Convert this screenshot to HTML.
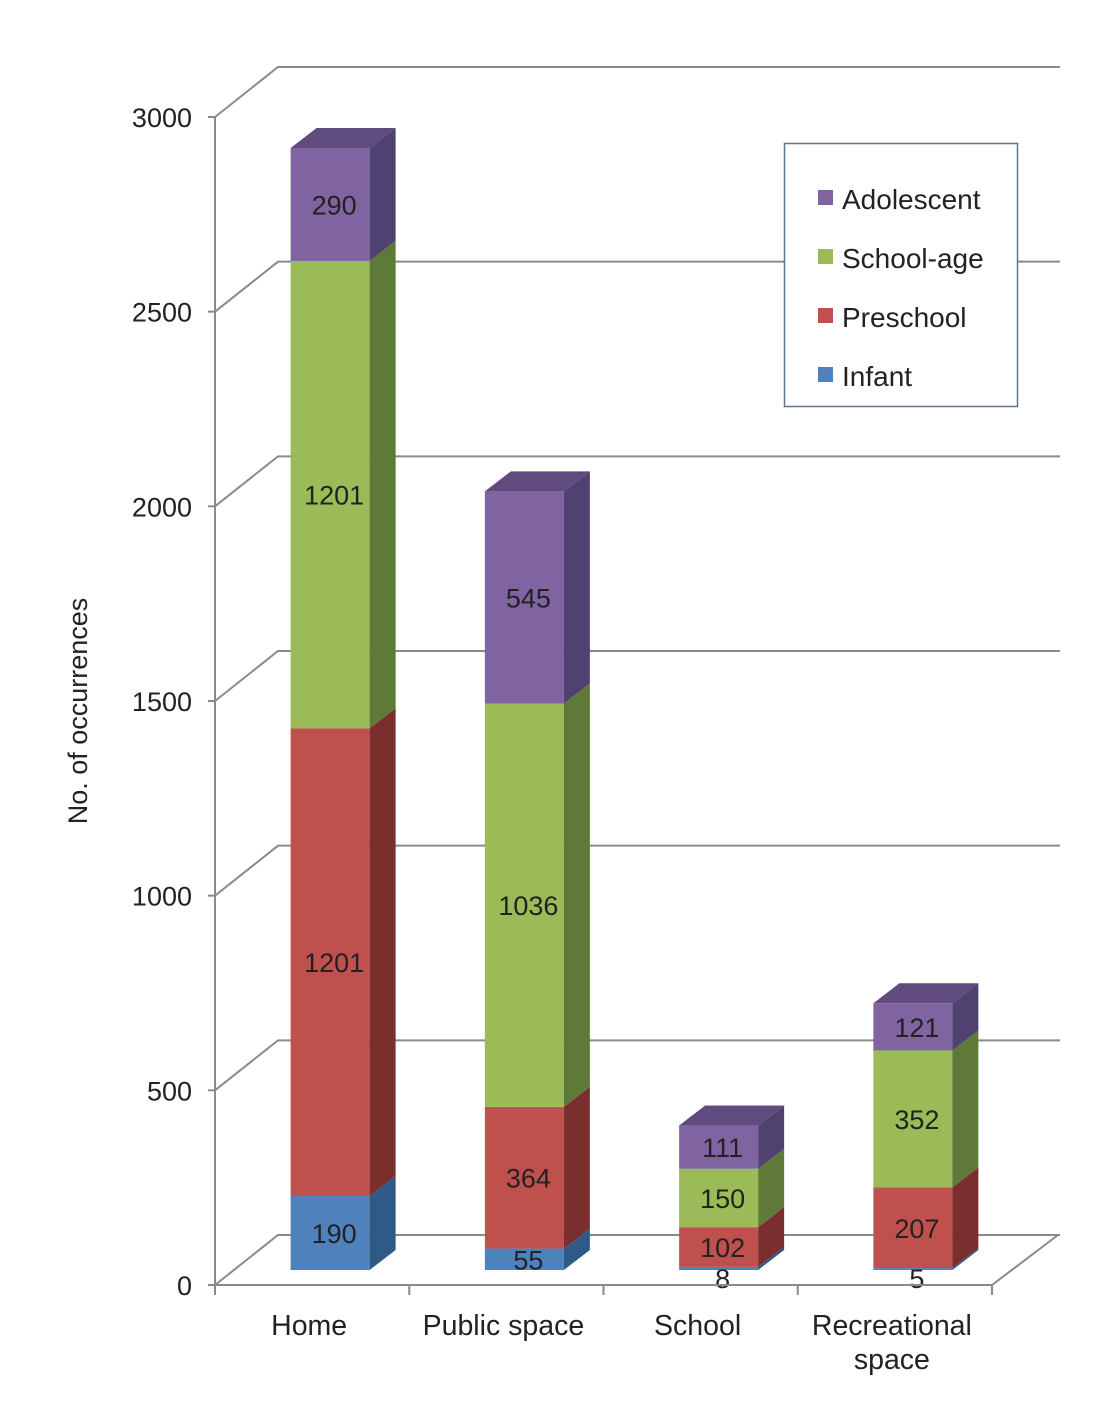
<!DOCTYPE html>
<html><head><meta charset="utf-8"><style>
body{margin:0;background:#fff;width:1112px;height:1412px;overflow:hidden}
svg text{font-family:"Liberation Sans",sans-serif;fill:#222}
</style></head><body>
<svg id="chart" width="1112" height="1412" viewBox="0 0 1112 1412" xmlns="http://www.w3.org/2000/svg">
<g id="grid"></g>
<g id="bars"></g>
<g id="axes"></g>
<text x="0" y="0" font-size="27" text-anchor="middle" transform="translate(87,711) rotate(-90)">No. of  occurrences</text>
<g>
<rect x="784.5" y="143.5" width="233" height="263" fill="#fff" stroke="#5a7792" stroke-width="1.5"/>
<g><rect x="818" y="190" width="15" height="15" fill="#8064a2"/><text x="842" y="209" font-size="28">Adolescent</text></g>
<g><rect x="818" y="249" width="15" height="15" fill="#9bbb59"/><text x="842" y="268" font-size="28">School-age</text></g>
<g><rect x="818" y="308" width="15" height="15" fill="#c0504d"/><text x="842" y="327" font-size="28">Preschool</text></g>
<g><rect x="818" y="367" width="15" height="15" fill="#4f81bd"/><text x="842" y="386" font-size="28">Infant</text></g>
</g>
</svg>
<script>
const categories=["Home","Public space","School","Recreational space"];
const infant=[190,55,8,5];
const preschool=[1201,364,102,207];
const schoolAge=[1201,1036,150,352];
const adolescent=[290,545,111,121];
const yTicks=[0,500,1000,1500,2000,2500,3000];
const NS="http://www.w3.org/2000/svg";
const gGrid=document.getElementById('grid'),gBars=document.getElementById('bars'),gAxes=document.getElementById('axes');
const yFront=v=>1285-v*1168/3000;
const yBar=v=>1270-v*1168/3000;
const DX=63,DY=-50,BX=26,BY=-20;
const xLeft=215,xRight=992;
const xCat=i=>xLeft+(i+0.5)*(xRight-xLeft)/categories.length;
function el(tag,attrs,parent){const e=document.createElementNS(NS,tag);for(const k in attrs)e.setAttribute(k,attrs[k]);parent.appendChild(e);return e;}
const gray="#8a8a8a";
yTicks.forEach(v=>{
  const y=yFront(v);
  const l=el('polyline',{points:`${xLeft},${y} ${xLeft+DX},${y+DY} 1060,${y+DY}`,fill:'none',stroke:gray,'stroke-width':2},gGrid);
  
  
  const t=el('line',{x1:xLeft-7,y1:y,x2:xLeft,y2:y,stroke:gray,'stroke-width':2},gAxes);
  
  
  const tx=el('text',{x:192,y:y+10,'font-size':27,'text-anchor':'end'},gAxes);
  tx.textContent=v;
  
  
});
el('line',{x1:xLeft,y1:yFront(3000),x2:xLeft,y2:yFront(0),stroke:gray,'stroke-width':2},gAxes);
el('polyline',{points:`${xLeft},${yFront(0)} ${xRight},${yFront(0)} 1058,${yFront(0)+DY}`,fill:'none',stroke:gray,'stroke-width':2},gAxes);
for(let i=0;i<=categories.length;i++){
  const x=xLeft+i*(xRight-xLeft)/categories.length;
  el('line',{x1:x,y1:1285,x2:x,y2:1295,stroke:gray,'stroke-width':2},gAxes);
}
const series=[[infant,'#4f81bd','#2f5a85','#3d6aa0','infant'],[preschool,'#c0504d','#7a2e2d','#9c3c3a','preschool'],[schoolAge,'#9bbb59','#5f7a38','#7e9c45','school-age'],[adolescent,'#8064a2','#4f4170','#5f4b7e','adolescent']];
const W=79;
categories.forEach((c,i)=>{
  const x0=xCat(i)-W/2+18;
  let cum=0;
  const total=series.reduce((s,a)=>s+a[0][i],0);
  series.forEach(([arr,front,side,top,name])=>{
    const v=arr[i];const y1=yBar(cum),y2=yBar(cum+v);
    const g=el('g',{},gBars);
    
    
    el('rect',{x:x0,y:y2,width:W,height:y1-y2,fill:front},g);
    el('polygon',{points:`${x0+W},${y1} ${x0+W+BX},${y1+BY} ${x0+W+BX},${y2+BY} ${x0+W},${y2}`,fill:side},g);
    if(cum+v===total) el('polygon',{points:`${x0},${y2} ${x0+BX},${y2+BY} ${x0+W+BX},${y2+BY} ${x0+W},${y2}`,fill:top},g);
    const t=el('text',{x:x0+W/2+4,y:Math.max((y1+y2)/2+10, v<20?y1+18:0),'font-size':27,'text-anchor':'middle'},gBars);
    t.textContent=v;
    
    
    cum+=v;
  });
  const lines=c==="Recreational space"?["Recreational","space"]:[c];
  lines.forEach((s,k)=>{
    const t=el('text',{x:xCat(i)-3,y:1335+k*34,'font-size':28.5,'text-anchor':'middle'},gAxes);
    t.textContent=s;
    
    
  });
});
</script>
</body></html>
